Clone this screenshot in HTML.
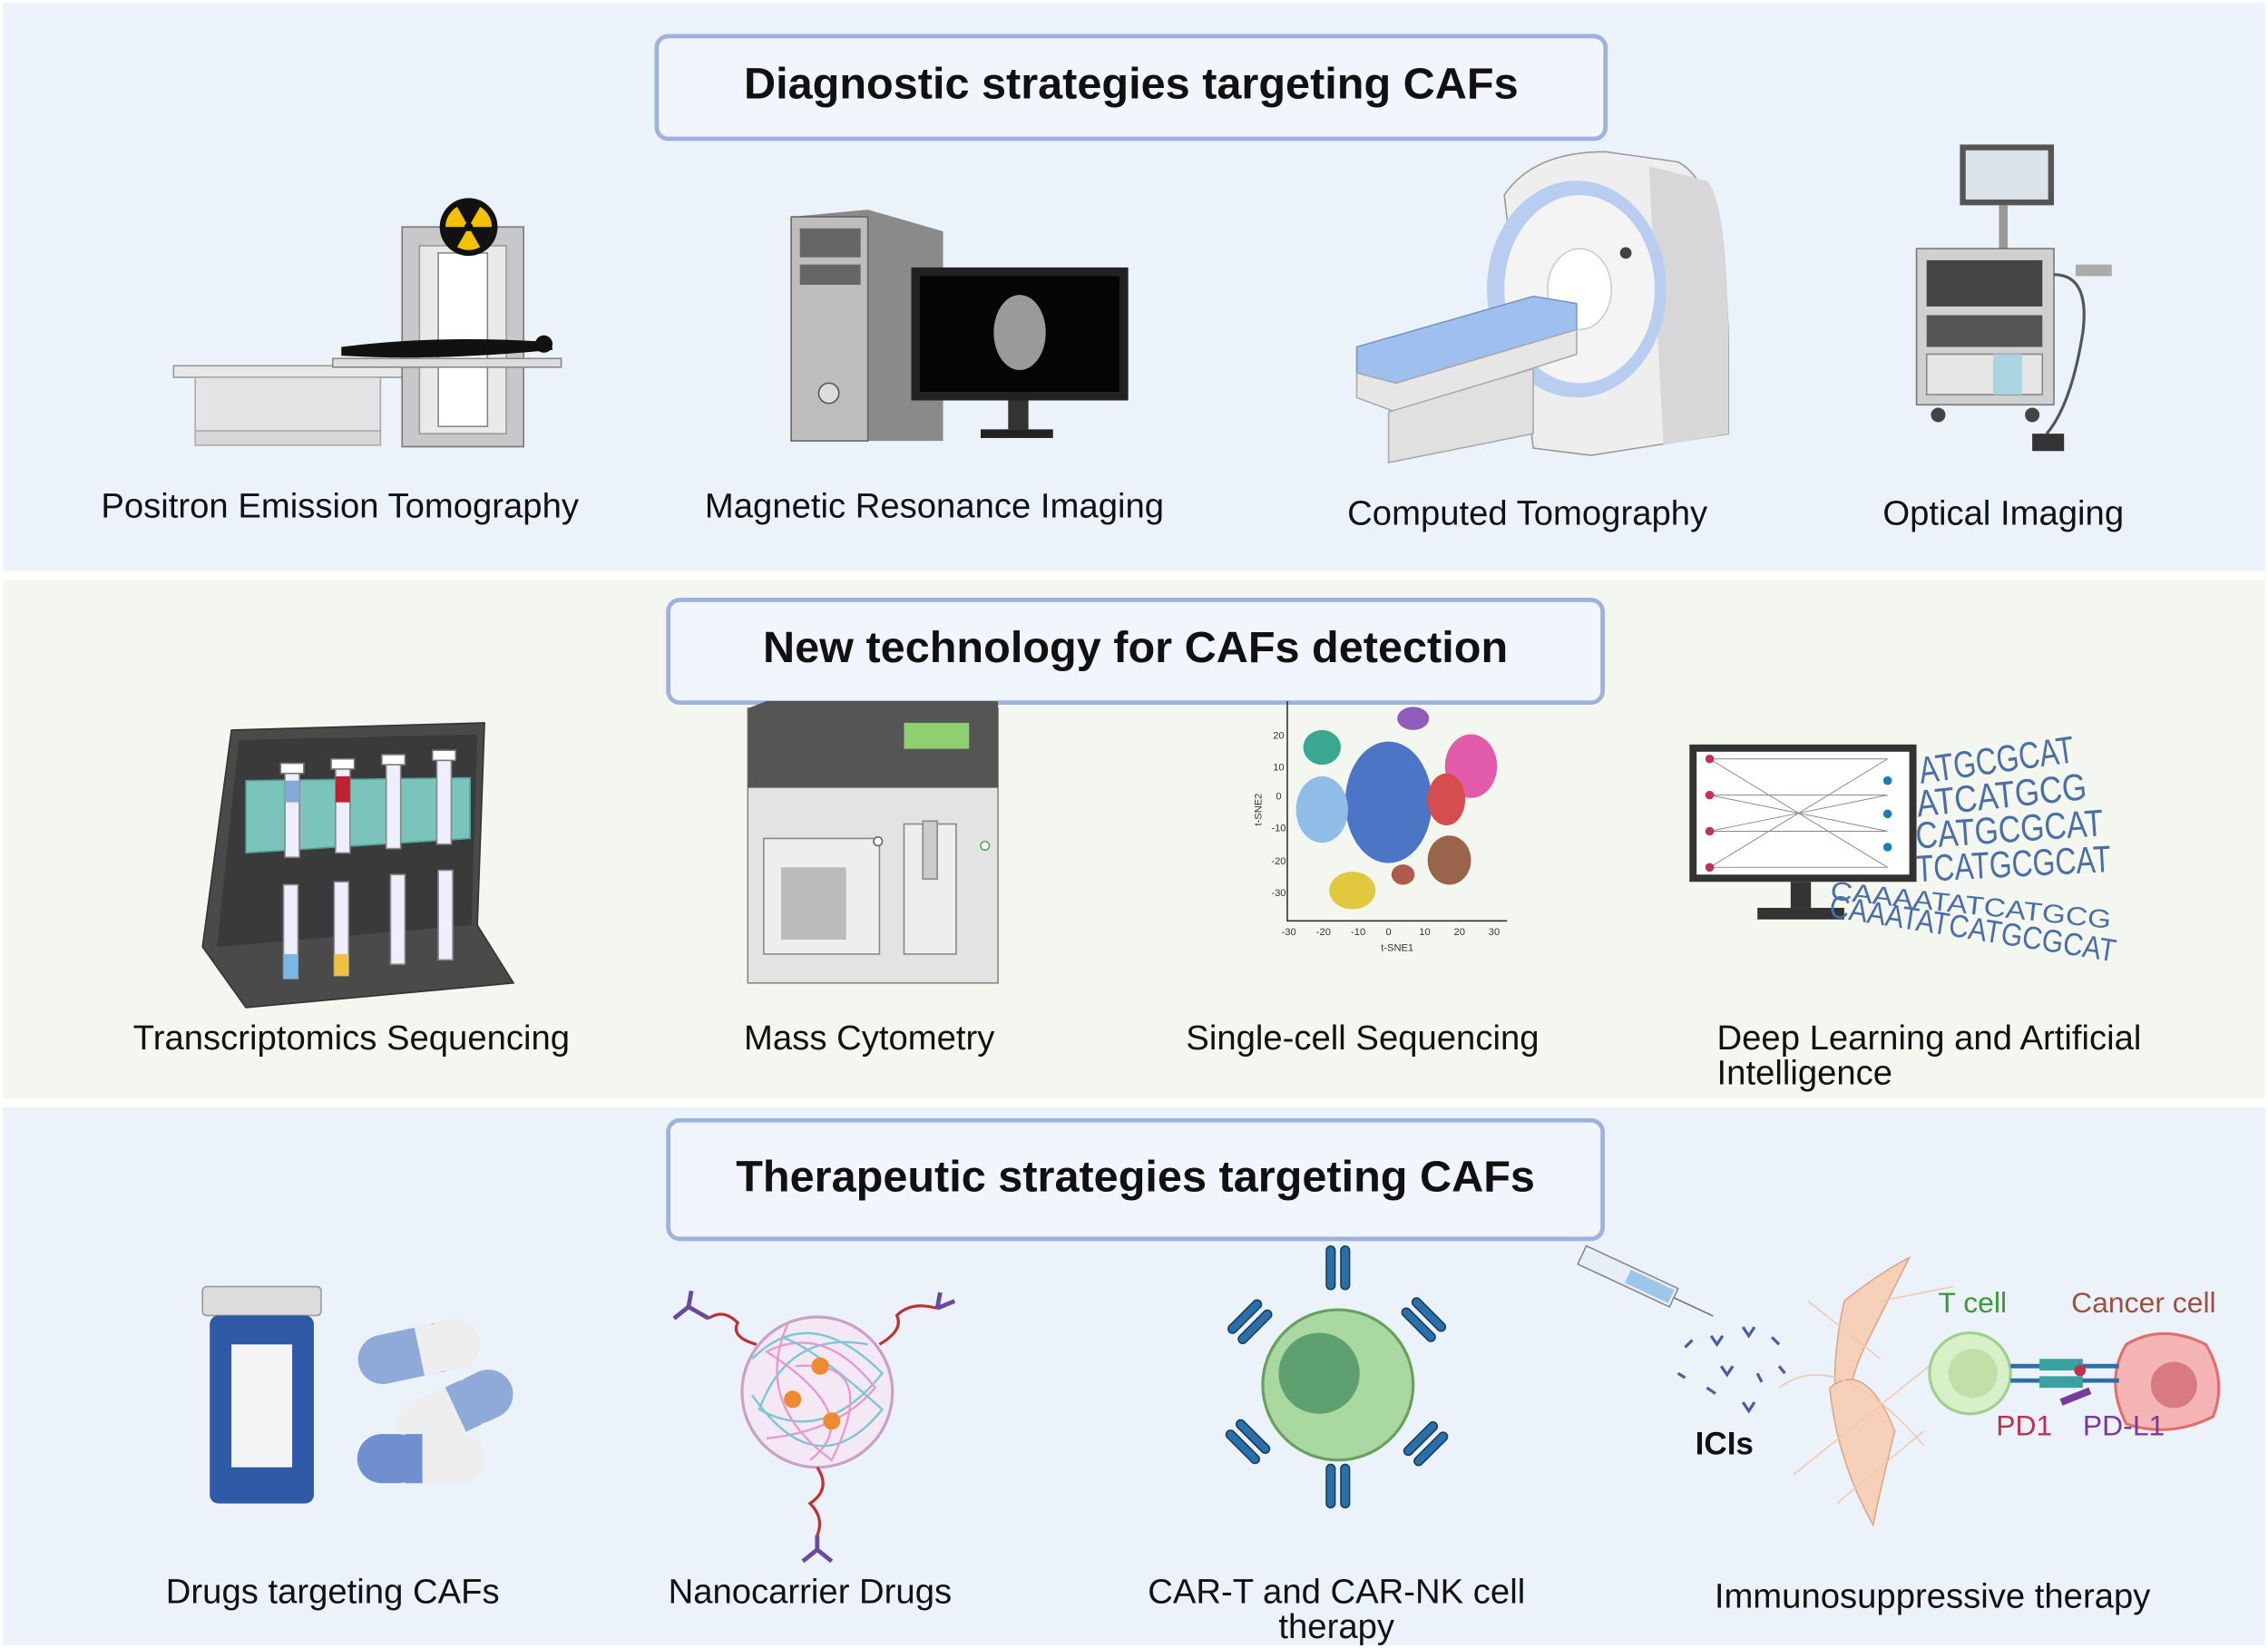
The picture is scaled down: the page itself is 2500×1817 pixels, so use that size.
<!DOCTYPE html>
<html><head><meta charset="utf-8"><style>
html,body{margin:0;padding:0;background:#fff;}
svg{display:block;}
text{font-family:"Liberation Sans",sans-serif;}
</style></head><body>
<svg width="2500" height="1817" viewBox="0 0 1568 1140" preserveAspectRatio="none" xmlns="http://www.w3.org/2000/svg">
<rect x="0" y="0" width="1568" height="1140" fill="#ffffff"/>
<rect x="2" y="2" width="1564" height="393" fill="#ecf2fa"/>
<rect x="2" y="401" width="1564" height="359" fill="#f4f7ef"/>
<rect x="2" y="766" width="1564" height="372" fill="#ecf2fa"/>

<rect x="454" y="25" width="656" height="71" rx="8" fill="#f1f5fc" stroke="#9fb2dd" stroke-width="3"/>
<text x="782" y="68" font-size="30.5" font-weight="bold" text-anchor="middle" fill="#111">Diagnostic strategies targeting CAFs</text>
<rect x="462" y="415" width="646" height="71" rx="8" fill="#f1f5fc" stroke="#9fb2dd" stroke-width="3"/>
<text x="785" y="458" font-size="30.5" font-weight="bold" text-anchor="middle" fill="#111">New technology for CAFs detection</text>
<rect x="462" y="775" width="646" height="82" rx="8" fill="#f1f5fc" stroke="#9fb2dd" stroke-width="3"/>
<text x="785" y="824" font-size="30.5" font-weight="bold" text-anchor="middle" fill="#111">Therapeutic strategies targeting CAFs</text>

<g font-size="24" fill="#111" text-anchor="middle">
<text x="235" y="358">Positron Emission Tomography</text>
<text x="646" y="358">Magnetic Resonance Imaging</text>
<text x="1056" y="363">Computed Tomography</text>
<text x="1385" y="363">Optical Imaging</text>
<text x="243" y="726">Transcriptomics Sequencing</text>
<text x="601" y="726">Mass Cytometry</text>
<text x="942" y="726">Single-cell Sequencing</text>
<text x="230" y="1109">Drugs targeting CAFs</text>
<text x="560" y="1109">Nanocarrier Drugs</text>
<text x="924" y="1109">CAR-T and CAR-NK cell</text>
<text x="924" y="1133">therapy</text>
<text x="1336" y="1112">Immunosuppressive therapy</text>
</g>
<text x="1187" y="726" font-size="24" fill="#111">Deep Learning and Artificial</text>
<text x="1187" y="750" font-size="24" fill="#111">Intelligence</text>

<!-- PET -->
<rect x="120" y="253" width="160" height="8" fill="#e8e8e8" stroke="#999"/>
<rect x="135" y="261" width="128" height="42" fill="#e4e4e4" stroke="#aaa"/>
<rect x="135" y="298" width="128" height="10" fill="#d8d8d8" stroke="#aaa"/>
<rect x="278" y="157" width="84" height="152" fill="#c8c8c8" stroke="#777"/>
<rect x="290" y="170" width="60" height="130" fill="#e9e9e9" stroke="#999"/>
<rect x="303" y="175" width="34" height="120" fill="#fff" stroke="#888"/>
<rect x="230" y="248" width="158" height="6" fill="#ddd" stroke="#888"/>
<path d="M236 240 Q300 232 370 236 Q382 236 382 242 Q300 250 236 246 Z" fill="#111"/>
<circle cx="376" cy="238" r="6" fill="#111"/>
<circle cx="324" cy="157" r="20" fill="#111"/>
<circle cx="324" cy="157" r="16" fill="#f2c200"/>
<circle cx="324" cy="157" r="3" fill="#111"/>
<path d="M324 157 L316 143 A16 16 0 0 1 332 143 Z M324 157 L340 157 A16 16 0 0 1 332 171 Z M324 157 L316 171 A16 16 0 0 1 308 157 Z" fill="#111"/>

<!-- MRI computer -->
<path d="M547 150 L600 145 L652 160 L652 305 L600 305 L547 300 Z" fill="#8a8a8a"/>
<rect x="547" y="150" width="53" height="155" fill="#bdbdbd" stroke="#666"/>
<rect x="553" y="158" width="42" height="20" fill="#666"/>
<rect x="553" y="183" width="42" height="14" fill="#666"/>
<circle cx="573" cy="272" r="7" fill="#ddd" stroke="#555"/>
<rect x="630" y="185" width="150" height="92" fill="#222"/>
<rect x="636" y="191" width="138" height="80" fill="#050505"/>
<ellipse cx="705" cy="230" rx="18" ry="26" fill="#9a9a9a"/>
<rect x="697" y="277" width="14" height="20" fill="#333"/>
<rect x="678" y="297" width="50" height="6" fill="#222"/>

<!-- CT -->
<path d="M1040 135 Q1060 105 1110 105 L1160 112 Q1195 130 1195 250 L1195 300 L1100 315 L1060 310 Z" fill="#eeeeef" stroke="#999"/>
<path d="M1140 115 L1180 125 Q1195 140 1195 250 L1195 300 L1150 308 Z" fill="#d7d7da"/>
<ellipse cx="1090" cy="200" rx="62" ry="75" fill="#b8cdf0"/>
<ellipse cx="1092" cy="200" rx="52" ry="65" fill="#f4f4f4"/>
<ellipse cx="1092" cy="200" rx="22" ry="28" fill="#fff" stroke="#ccc"/>
<circle cx="1124" cy="175" r="4" fill="#444"/>
<path d="M938 240 L1060 205 L1090 210 L1090 228 L965 265 L938 258 Z" fill="#9fc0ef" stroke="#7a95c0"/>
<path d="M938 258 L965 265 L1090 228 L1090 245 L965 285 L938 275 Z" fill="#e6e6e6" stroke="#aaa"/>
<path d="M960 285 L1060 255 L1060 300 L960 320 Z" fill="#e0e0e0" stroke="#aaa"/>

<!-- Optical -->
<rect x="1355" y="100" width="65" height="42" fill="#555"/>
<rect x="1359" y="104" width="57" height="34" fill="#dde3ea"/>
<rect x="1382" y="142" width="6" height="30" fill="#999"/>
<rect x="1325" y="172" width="95" height="108" fill="#d0d0d0" stroke="#777"/>
<rect x="1332" y="180" width="80" height="32" fill="#444"/>
<rect x="1332" y="218" width="80" height="22" fill="#555"/>
<rect x="1332" y="245" width="80" height="28" fill="#e6e6e6" stroke="#888"/>
<rect x="1378" y="245" width="20" height="28" fill="#a9d4e0"/>
<circle cx="1340" cy="287" r="5" fill="#444"/><circle cx="1405" cy="287" r="5" fill="#444"/>
<path d="M1420 190 Q1445 190 1440 230 Q1432 280 1415 300" stroke="#555" stroke-width="2" fill="none"/>
<rect x="1435" y="183" width="25" height="8" fill="#aaa"/>
<rect x="1405" y="300" width="22" height="12" fill="#333"/>

<!-- Tube rack -->
<path d="M160 505 L335 500 L330 640 L355 680 L170 697 L140 655 Z" fill="#4a4a4a" stroke="#333"/>
<path d="M165 512 L330 508 L326 640 L150 655 Z" fill="#3a3a3a"/>
<path d="M170 540 L325 538 L325 580 L170 590 Z" fill="#7ac4bb" stroke="#4f9e95"/>
<g stroke="#888" fill="#eef">
<rect x="197" y="533" width="10" height="60"/><rect x="232" y="530" width="10" height="60"/><rect x="267" y="527" width="10" height="60"/><rect x="302" y="524" width="10" height="60"/>
<rect x="196" y="612" width="10" height="65"/><rect x="231" y="610" width="10" height="65"/><rect x="270" y="605" width="10" height="62"/><rect x="303" y="602" width="10" height="62"/>
</g>
<rect x="196" y="660" width="10" height="17" fill="#7bb6e6"/><rect x="231" y="660" width="10" height="15" fill="#f0c040"/>
<rect x="197" y="540" width="10" height="15" fill="#86a8d8"/><rect x="232" y="537" width="10" height="18" fill="#c02030"/>
<g fill="#fff" stroke="#777"><rect x="194" y="528" width="16" height="7"/><rect x="229" y="525" width="16" height="7"/><rect x="264" y="522" width="16" height="7"/><rect x="299" y="519" width="16" height="7"/></g>

<!-- Mass cytometer -->
<rect x="517" y="490" width="173" height="190" fill="#e3e3e3" stroke="#888"/>
<path d="M517 490 L530 485 L690 485 L690 545 L517 545 Z" fill="#555"/>
<rect x="625" y="500" width="45" height="18" fill="#8fcf70"/>
<rect x="528" y="580" width="80" height="80" fill="#eee" stroke="#888"/>
<rect x="540" y="600" width="45" height="50" fill="#bbb"/>
<rect x="625" y="570" width="36" height="90" fill="#eee" stroke="#888"/>
<rect x="638" y="568" width="10" height="40" fill="#ccc" stroke="#888"/>
<circle cx="607" cy="582" r="3" fill="#fff" stroke="#666"/><circle cx="681" cy="585" r="3" fill="#fff" stroke="#5a5"/>

<!-- tSNE -->
<g stroke="#333" stroke-width="1" fill="none"><path d="M890 485 L890 637 L1042 637"/></g>
<g font-size="7" fill="#333" text-anchor="middle">
<text x="891" y="647">-30</text><text x="915" y="647">-20</text><text x="939" y="647">-10</text><text x="960" y="647">0</text><text x="985" y="647">10</text><text x="1009" y="647">20</text><text x="1033" y="647">30</text>
<text x="966" y="658">t-SNE1</text>
<text x="884" y="511">20</text><text x="884" y="533">10</text><text x="884" y="553">0</text><text x="884" y="575">-10</text><text x="884" y="598">-20</text><text x="884" y="620">-30</text>
</g>
<text x="872" y="560" font-size="7" fill="#333" transform="rotate(-90 872 560)" text-anchor="middle">t-SNE2</text>
<g opacity="0.85">
<ellipse cx="960" cy="555" rx="30" ry="42" fill="#2f5fbf"/>
<ellipse cx="914" cy="560" rx="18" ry="23" fill="#7fb4e6"/>
<ellipse cx="914" cy="517" rx="13" ry="12" fill="#1a9a80"/>
<ellipse cx="1017" cy="530" rx="18" ry="22" fill="#e040a0"/>
<ellipse cx="1000" cy="553" rx="13" ry="18" fill="#d03030"/>
<ellipse cx="1002" cy="595" rx="15" ry="17" fill="#8a4a30"/>
<ellipse cx="935" cy="616" rx="16" ry="13" fill="#e0c020"/>
<ellipse cx="977" cy="497" rx="11" ry="8" fill="#8040b0"/>
<ellipse cx="970" cy="605" rx="8" ry="7" fill="#a04030"/>
</g>

<!-- Deep learning -->
<rect x="1168" y="515" width="157" height="95" fill="#333"/>
<rect x="1173" y="520" width="147" height="85" fill="#fff"/>
<g stroke="#888" stroke-width="0.6">
<path d="M1182 525 L1305 600 M1182 600 L1305 525 M1182 550 L1305 575 M1182 575 L1305 550 M1182 525 L1305 525 M1182 600 L1305 600 M1182 550 L1305 550 M1182 575 L1305 575"/>
</g>
<g fill="#c03060"><circle cx="1182" cy="525" r="3"/><circle cx="1182" cy="550" r="3"/><circle cx="1182" cy="575" r="3"/><circle cx="1182" cy="600" r="3"/></g>
<g fill="#1a7fb0"><circle cx="1305" cy="540" r="3"/><circle cx="1305" cy="563" r="3"/><circle cx="1305" cy="586" r="3"/></g>
<rect x="1238" y="610" width="14" height="18" fill="#333"/><rect x="1215" y="628" width="60" height="8" fill="#333"/>
<g fill="#4a6fa8" font-family="Liberation Sans" font-size="26">
<text x="1328" y="542" transform="rotate(-8 1328 542)" textLength="108" lengthAdjust="spacingAndGlyphs">ATGCGCAT</text>
<text x="1326" y="565" transform="rotate(-6 1326 565)" textLength="118" lengthAdjust="spacingAndGlyphs">ATCATGCG</text>
<text x="1325" y="587" transform="rotate(-4 1325 587)" textLength="130" lengthAdjust="spacingAndGlyphs">CATGCGCAT</text>
<text x="1325" y="610" transform="rotate(-3 1325 610)" textLength="135" lengthAdjust="spacingAndGlyphs">TCATGCGCAT</text>
<text x="1265" y="622" font-size="18" transform="rotate(6 1265 622)" textLength="195" lengthAdjust="spacingAndGlyphs">CAAAATATCATGCG</text>
<text x="1264" y="634" font-size="22" transform="rotate(9 1264 634)" textLength="200" lengthAdjust="spacingAndGlyphs">CAAATATCATGCGCAT</text>
</g>

<!-- Drugs -->
<rect x="140" y="890" width="82" height="20" rx="3" fill="#dcdcdc" stroke="#999"/>
<rect x="145" y="910" width="72" height="130" rx="6" fill="#2f5aa8"/>
<rect x="160" y="930" width="42" height="85" fill="#f4f4f4"/>
<g transform="rotate(-12 290 935)"><rect x="247" y="918" width="85" height="34" rx="17" fill="#8fa9d8"/><rect x="290" y="918" width="42" height="34" rx="17" fill="#eee"/><rect x="290" y="918" width="12" height="34" fill="#eee"/></g>
<g transform="rotate(-25 315 975)"><rect x="272" y="958" width="85" height="34" rx="17" fill="#eee"/><rect x="315" y="958" width="42" height="34" rx="17" fill="#8fa9d8"/><rect x="315" y="958" width="12" height="34" fill="#8fa9d8"/></g>
<g><rect x="247" y="992" width="88" height="34" rx="17" fill="#eee"/><rect x="247" y="992" width="45" height="34" rx="17" fill="#6f8fcf"/><rect x="280" y="992" width="12" height="34" fill="#6f8fcf"/></g>

<!-- Nanocarrier -->
<circle cx="565" cy="963" r="52" fill="#f4e8f4" stroke="#c8a0c8" stroke-width="2"/>
<g fill="none" stroke-width="1.5">
<path d="M520 940 Q560 900 610 950 Q570 1000 525 975 Q545 920 600 930" stroke="#7ac8d0"/>
<path d="M530 995 Q580 990 605 960 Q570 915 530 935 Q600 980 560 1010" stroke="#e59ad0"/>
<path d="M520 965 Q565 1030 610 975 Q560 930 540 925" stroke="#7ac8d0"/>
<path d="M545 915 Q520 970 575 1010 Q610 940 550 945" stroke="#e59ad0"/>
</g>
<g fill="#ef8a30"><circle cx="567" cy="945" r="6"/><circle cx="548" cy="968" r="6"/><circle cx="575" cy="983" r="6"/></g>
<g fill="none" stroke="#c03030" stroke-width="2"><path d="M523 930 Q505 925 510 915 Q500 905 490 912"/><path d="M608 930 Q625 920 620 910 Q630 900 648 905"/><path d="M565 1015 Q575 1030 560 1040 Q570 1050 565 1062"/></g>
<g stroke="#6a4a9a" stroke-width="3" fill="none"><path d="M490 912 L476 904 L466 912 M476 904 L478 893"/><path d="M648 905 L650 894 M648 905 L660 900"/><path d="M565 1062 L565 1072 L555 1080 M565 1072 L575 1080"/></g>

<!-- CAR-T -->
<circle cx="925" cy="958" r="52" fill="#a9d8a0" stroke="#6aa05f" stroke-width="2"/>
<circle cx="912" cy="950" r="28" fill="#5fa070"/>
<g fill="#2a6fa8" stroke="#173d60">
<rect x="917" y="862" width="6" height="30" rx="3"/><rect x="927" y="862" width="6" height="30" rx="3"/>
<rect x="917" y="1013" width="6" height="30" rx="3"/><rect x="927" y="1013" width="6" height="30" rx="3"/>
<g transform="rotate(45 862 915)"><rect x="855" y="898" width="6" height="30" rx="3"/><rect x="865" y="898" width="6" height="30" rx="3"/></g>
<g transform="rotate(-45 985 915)"><rect x="978" y="898" width="6" height="30" rx="3"/><rect x="988" y="898" width="6" height="30" rx="3"/></g>
<g transform="rotate(-45 862 998)"><rect x="855" y="983" width="6" height="30" rx="3"/><rect x="865" y="983" width="6" height="30" rx="3"/></g>
<g transform="rotate(45 985 998)"><rect x="978" y="983" width="6" height="30" rx="3"/><rect x="988" y="983" width="6" height="30" rx="3"/></g>
</g>

<!-- Immunotherapy -->
<g transform="rotate(25 1130 885)"><rect x="1090" y="878" width="70" height="14" fill="#e6eef6" stroke="#888"/><rect x="1125" y="880" width="33" height="10" fill="#9ec6e8"/><path d="M1160 885 L1190 885" stroke="#777"/></g>
<g stroke="#4a5aa8" stroke-width="2" fill="none"><path d="M1165 932 l5 -5 M1183 924 l4 6 l4 -6 M1205 918 l4 6 l4 -6 M1225 925 l5 5 M1190 945 l4 6 l4 -6 M1215 950 l3 6 M1180 960 l6 4 M1205 970 l4 6 l4 -6 M1160 950 l5 3 M1230 945 l4 5"/></g>
<text x="1172" y="1006" font-size="22" font-weight="bold" fill="#111">ICIs</text>
<g fill="#f6d0b8" stroke="#d8a888" stroke-width="1">
<path d="M1275 900 Q1300 880 1320 870 Q1305 900 1290 930 Q1275 960 1275 1000 Q1262 960 1275 900 Z"/>
<path d="M1265 960 Q1290 940 1310 990 Q1300 1030 1295 1055 Q1270 1010 1265 960 Z"/>
</g>
<g stroke="#f2c8b0" stroke-width="1" fill="none"><path d="M1230 960 Q1270 930 1330 1000 M1240 1020 Q1290 980 1340 940 M1300 900 L1350 890 M1250 900 L1300 940 M1270 1040 L1330 990"/></g>
<circle cx="1362" cy="950" r="28" fill="#d8f0c8" stroke="#a0d090" stroke-width="2"/>
<circle cx="1364" cy="950" r="17" fill="#c0e0a8"/>
<path d="M1470 930 Q1495 915 1525 930 Q1540 955 1530 980 Q1500 995 1470 985 Q1455 955 1470 930 Z" fill="#f6b5b5" stroke="#e07070" stroke-width="2"/>
<circle cx="1503" cy="958" r="16" fill="#d87a80"/>
<g stroke="#2a6fa8" stroke-width="3"><path d="M1390 945 L1465 945 M1390 955 L1465 955"/></g>
<rect x="1410" y="940" width="30" height="8" fill="#3aa0a0"/><rect x="1410" y="952" width="30" height="8" fill="#3aa0a0"/>
<circle cx="1438" cy="948" r="4" fill="#c03050"/>
<path d="M1425 970 L1445 962" stroke="#7a3a9a" stroke-width="5"/>
<text x="1340" y="908" font-size="20" fill="#3a9a3a">T cell</text>
<text x="1432" y="908" font-size="20" fill="#a05040">Cancer cell</text>
<text x="1380" y="993" font-size="20" fill="#c03050">PD1</text>
<text x="1440" y="993" font-size="20" fill="#7a3a9a">PD-L1</text>
</svg>
</body></html>
